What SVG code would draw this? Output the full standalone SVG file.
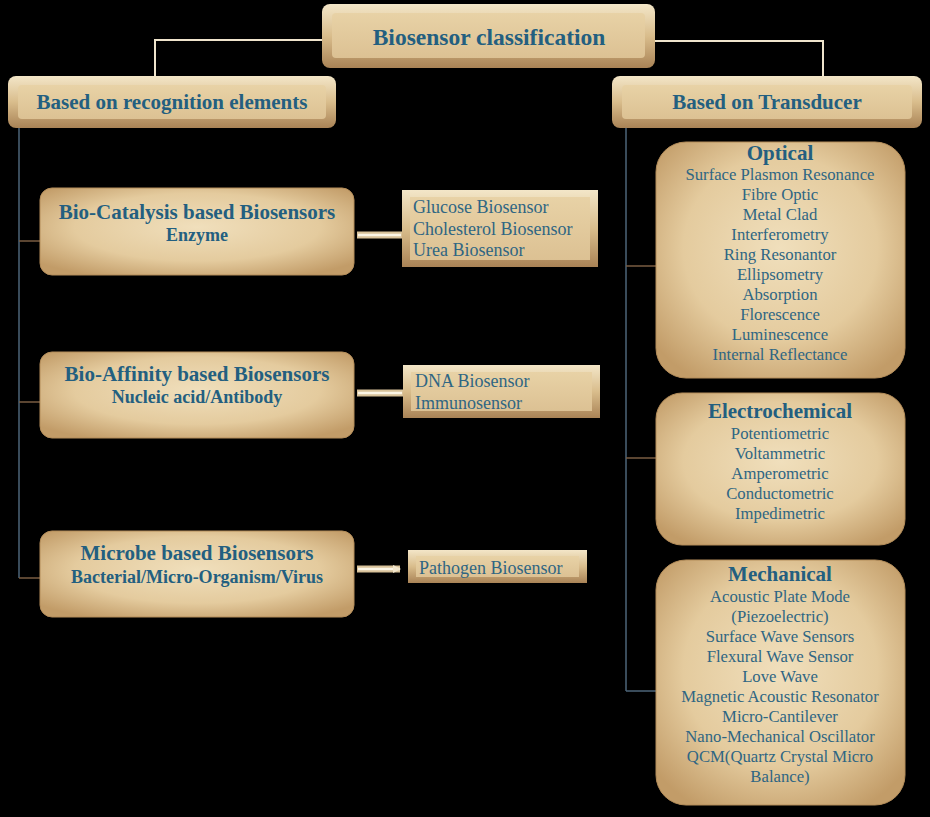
<svg xmlns="http://www.w3.org/2000/svg" width="930" height="817" viewBox="0 0 930 817">
<defs>
<radialGradient id="rg" cx="50%" cy="45%" r="65%">
<stop offset="0" stop-color="#f0dfbc"/>
<stop offset="0.6" stop-color="#e4cb9e"/>
<stop offset="1" stop-color="#c29c68"/>
</radialGradient>
<linearGradient id="outer" x1="0" y1="0" x2="0" y2="1">
<stop offset="0" stop-color="#f3e6c8"/>
<stop offset="0.5" stop-color="#d9bd8c"/>
<stop offset="1" stop-color="#a98356"/>
</linearGradient>
<linearGradient id="inner" x1="0" y1="0" x2="0" y2="1">
<stop offset="0" stop-color="#e8d2a6"/>
<stop offset="1" stop-color="#dcc193"/>
</linearGradient>
<marker id="arr" markerWidth="8" markerHeight="8" refX="7" refY="4" orient="auto" markerUnits="userSpaceOnUse">
<path d="M0,0 L8,4 L0,8 z" fill="#f2e6cc"/>
</marker>
</defs>
<style>
.rb{fill:url(#rg);stroke:#b48d5a;stroke-width:1}
.ob{fill:url(#outer)}
.ib{fill:url(#inner)}
text{font-family:'Liberation Serif','Times New Roman',Tinos,'DejaVu Serif',serif}
.t{fill:#2f6683;text-anchor:middle}
.h{font-weight:bold;fill:#235f80}
.l{font-size:16.7px}
.s{text-anchor:start;font-size:18px}
.cl{fill:none;stroke:#efe4cc;stroke-width:2}
.bl{fill:none;stroke:#4c6478;stroke-width:1.5}
.tk{fill:none;stroke:#7a5c42;stroke-width:1.5}
.bar{stroke:#d8c29a;stroke-width:7}
.barin{stroke:#fbf5e6;stroke-width:2.5}
</style>
<rect width="930" height="817" fill="#000"/>

<g id="connectors">
<polyline class="cl" points="322,40 155,40 155,77"/>
<polyline class="cl" points="655,41 823,41 823,77"/>
<polyline class="bl" points="19,128 19,578"/>
<line class="tk" x1="19" y1="241" x2="40" y2="241"/>
<line class="tk" x1="19" y1="402" x2="40" y2="402"/>
<line class="tk" x1="19" y1="578" x2="40" y2="578"/>
<polyline class="bl" points="626,128 626,691"/>
<line class="tk" x1="626" y1="266" x2="656" y2="266"/>
<line class="tk" x1="626" y1="458" x2="656" y2="458"/>
<line class="bl" x1="626" y1="691" x2="656" y2="691"/>
<line class="bar" x1="357" y1="235" x2="402" y2="235"/>
<line class="barin" x1="358" y1="235" x2="401" y2="235"/>
<line class="bar" x1="357" y1="393" x2="403" y2="393"/>
<line class="barin" x1="358" y1="393" x2="402" y2="393"/>
<line class="bar" x1="357" y1="569" x2="400" y2="569"/>
<line class="barin" x1="358" y1="569" x2="400" y2="569" marker-end="url(#arr)"/>
</g>

<g id="root">
<rect class="ob" x="322" y="4" width="333" height="64" rx="8"/>
<rect class="ib" x="332" y="13" width="313" height="45" rx="4"/>
<text class="t h" x="489" y="45" font-size="23.5">Biosensor classification</text>
</g>

<g id="recognition">
<rect class="ob" x="8" y="76" width="328" height="52" rx="8"/>
<rect class="ib" x="18" y="85" width="308" height="34" rx="4"/>
<text class="t h" x="172" y="109" font-size="21">Based on recognition elements</text>
</g>

<g id="transducer">
<rect class="ob" x="612" y="76" width="310" height="52" rx="8"/>
<rect class="ib" x="622" y="85" width="290" height="34" rx="4"/>
<text class="t h" x="767" y="109" font-size="21">Based on Transducer</text>
</g>

<g id="biocatalysis">
<rect class="rb" x="40" y="188" width="314" height="87" rx="12"/>
<text class="t h" x="197" y="219" font-size="21">Bio-Catalysis based Biosensors</text>
<text class="t h" x="197" y="241" font-size="18">Enzyme</text>
</g>

<g id="bioaffinity">
<rect class="rb" x="40" y="352" width="314" height="86" rx="12"/>
<text class="t h" x="197" y="381" font-size="21">Bio-Affinity based Biosensors</text>
<text class="t h" x="197" y="403" font-size="18">Nucleic acid/Antibody</text>
</g>

<g id="microbe">
<rect class="rb" x="40" y="531" width="314" height="86" rx="12"/>
<text class="t h" x="197" y="560" font-size="21">Microbe based Biosensors</text>
<text class="t h" x="197" y="583" font-size="18">Bacterial/Micro-Organism/Virus</text>
</g>

<g id="enzyme-list">
<rect class="ob" x="402" y="190" width="196" height="77"/>
<rect class="ib" x="410" y="197" width="180" height="63"/>
<text class="t s" x="413" y="213">Glucose Biosensor</text>
<text class="t s" x="413" y="235">Cholesterol Biosensor</text>
<text class="t s" x="413" y="256">Urea Biosensor</text>
</g>

<g id="affinity-list">
<rect class="ob" x="403" y="365" width="197" height="53"/>
<rect class="ib" x="411" y="372" width="181" height="39"/>
<text class="t s" x="415" y="387">DNA Biosensor</text>
<text class="t s" x="415" y="409">Immunosensor</text>
</g>

<g id="pathogen">
<rect class="ob" x="408" y="550" width="179" height="33"/>
<rect class="ib" x="416" y="556" width="163" height="21"/>
<text class="t s" x="419" y="574">Pathogen Biosensor</text>
</g>

<g id="optical">
<rect class="rb" x="656" y="142" width="249" height="236" rx="30"/>
<text class="t h" x="780" y="160" font-size="21">Optical</text>
<text class="t l" x="780" y="180">Surface Plasmon Resonance</text>
<text class="t l" x="780" y="200">Fibre Optic</text>
<text class="t l" x="780" y="220">Metal  Clad</text>
<text class="t l" x="780" y="240">Interferometry</text>
<text class="t l" x="780" y="260">Ring Resonantor</text>
<text class="t l" x="780" y="280">Ellipsometry</text>
<text class="t l" x="780" y="300">Absorption</text>
<text class="t l" x="780" y="320">Florescence</text>
<text class="t l" x="780" y="340">Luminescence</text>
<text class="t l" x="780" y="360">Internal Reflectance</text>
</g>

<g id="electrochemical">
<rect class="rb" x="656" y="393" width="249" height="152" rx="26"/>
<text class="t h" x="780" y="418" font-size="21">Electrochemical</text>
<text class="t l" x="780" y="439">Potentiometric</text>
<text class="t l" x="780" y="459">Voltammetric</text>
<text class="t l" x="780" y="479">Amperometric</text>
<text class="t l" x="780" y="499">Conductometric</text>
<text class="t l" x="780" y="519">Impedimetric</text>
</g>

<g id="mechanical">
<rect class="rb" x="656" y="560" width="249" height="245" rx="30"/>
<text class="t h" x="780" y="581" font-size="21">Mechanical</text>
<text class="t l" x="780" y="602">Acoustic Plate Mode</text>
<text class="t l" x="780" y="622">(Piezoelectric)</text>
<text class="t l" x="780" y="642">Surface Wave Sensors</text>
<text class="t l" x="780" y="662">Flexural Wave Sensor</text>
<text class="t l" x="780" y="682">Love Wave</text>
<text class="t l" x="780" y="702">Magnetic  Acoustic Resonator</text>
<text class="t l" x="780" y="722">Micro-Cantilever</text>
<text class="t l" x="780" y="742">Nano-Mechanical Oscillator</text>
<text class="t l" x="780" y="762">QCM(Quartz Crystal Micro</text>
<text class="t l" x="780" y="782">Balance)</text>
</g>
</svg>
